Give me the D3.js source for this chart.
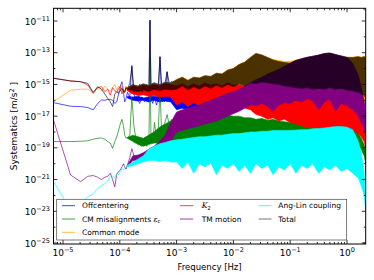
<!DOCTYPE html>
<html>
<head>
<meta charset="utf-8">
<script src="https://cdn.jsdelivr.net/npm/d3@7"></script>
<style>
body { margin: 0; background: #fff; }
svg text { font-family: "DejaVu Sans", sans-serif; fill: #000; }
</style>
</head>
<body>
<svg id="chart" width="374" height="280"></svg>
<script>
// frequencies of the low part (FFT bins, then sparser)
var freqLine = [6.8e-6, 1.36e-5, 2.04e-5, 2.72e-5, 3.4e-5, 4.08e-5, 4.76e-5, 5.44e-5, 6.12e-5, 6.8e-5,
  7.48e-5, 8.16e-5, 8.84e-5, 9.52e-5, 1.02e-4, 1.09e-4, 1.16e-4, 1.22e-4, 1.29e-4, 1.36e-4,
  1.5e-4, 1.63e-4, 1.77e-4, 1.9e-4, 2.04e-4, 2.24e-4, 2.45e-4, 2.72e-4, 2.99e-4, 3.26e-4,
  3.4e-4, 3.54e-4, 3.81e-4, 4.08e-4, 4.42e-4, 4.76e-4, 5.1e-4, 5.44e-4, 6.12e-4, 6.8e-4,
  7.48e-4, 8.16e-4, 9.18e-4, 1.0e-3];

var offLine = [7.1e-17, 4.2e-17, 4.0e-17, 3.5e-17, 2.5e-17, 6.3e-17, 1.05e-16, 1.0e-16, 1.12e-16, 1.15e-16,
  1.0e-16, 6.3e-17, 7.9e-17, 2.5e-16, 7.9e-16, 1.48e-15, 3.2e-16, 7.9e-17, 1.26e-16, 3.2e-16,
  1.6e-16, 1.6e-14, 2.5e-16, 1.0e-16, 1.26e-16, 6.3e-17, 1.6e-16, 7.9e-17, 1.26e-16, 1.0e-16,
  1.12e-11, 1.26e-16, 6.3e-17, 1.6e-16, 5.0e-17, 1.26e-16, 5.6e-14, 1.6e-16, 7.9e-17, 6.3e-15,
  1.26e-16, 2.5e-16, 1.0e-16, 2.0e-16];
var cmLine = [2.5e-19, 2.5e-19, 2.6e-19, 2.8e-19, 3.5e-19, 4.0e-19, 4.2e-19, 3.5e-19, 2.5e-19, 2.0e-19,
  9.3e-20, 2.5e-19, 5.0e-19, 1.26e-18, 3.2e-18, 6.3e-18, 2.5e-18, 6.3e-19, 4.0e-19, 4.5e-19,
  6.3e-19, 1.6e-16, 2.5e-18, 5.0e-19, 2.5e-19, 1.6e-19, 1.26e-19, 2.0e-19, 1.26e-19, 3.2e-19,
  5.0e-14, 5.0e-19, 2.5e-19, 4.0e-18, 4.0e-19, 1.6e-18, 4.5e-16, 1.26e-18, 3.2e-18, 1.26e-17,
  2.5e-18, 6.3e-18, 3.2e-18, 5.0e-18];
var commonLine = [8.1e-17, 4.3e-16, 5.0e-16, 5.0e-16, 2.8e-16, 6.3e-16, 4.0e-16, 7.9e-16, 5.0e-16, 3.5e-16,
  6.3e-16, 1.0e-15, 4.5e-16, 7.9e-16, 4.0e-16, 1.0e-15, 6.3e-16, 3.2e-16, 7.9e-16, 5.0e-16,
  6.3e-16, 1.0e-15, 3.2e-16, 7.9e-16, 4.0e-16, 1.0e-15, 5.0e-16, 2.5e-16, 7.9e-16, 5.0e-16,
  1.0e-15, 4.0e-16, 6.3e-16, 3.2e-16, 7.9e-16, 5.0e-16, 1.0e-15, 4.0e-16, 6.3e-16, 1.0e-15,
  5.0e-16, 1.26e-15, 6.3e-16, 1.0e-15];
var k2Line = [2.45e-15, 1.66e-15, 1.48e-15, 9.3e-16, 2.75e-16, 6.3e-16, 7.2e-16, 3.5e-16, 5.0e-16, 2.1e-16,
  6.3e-16, 4.0e-16, 3.2e-16, 5.6e-16, 7.2e-16, 2.5e-16, 5.0e-16, 3.2e-16, 6.3e-16, 4.0e-16,
  5.0e-16, 2.5e-16, 7.9e-16, 3.2e-16, 6.3e-16, 2.0e-16, 5.0e-16, 3.2e-16, 1.0e-15, 2.5e-16,
  6.3e-16, 4.0e-16, 2.0e-16, 7.9e-16, 3.2e-16, 5.0e-16, 2.5e-16, 6.3e-16, 4.0e-16, 2.5e-16,
  7.9e-16, 3.2e-16, 5.0e-16, 4.0e-16];
var tmLine = [5.75e-18, 1.95e-21, 7.4e-22, 1.6e-21, 1.8e-21, 1.4e-21, 1.0e-21, 1.4e-21, 1.6e-21, 2.5e-21,
  1.0e-21, 3.5e-22, 2.2e-21, 3.2e-21, 4.0e-21, 6.3e-21, 1.0e-20, 6.3e-21, 4.5e-21, 7.9e-21,
  2.5e-20, 8.9e-20, 3.2e-20, 1.8e-20, 2.5e-20, 3.2e-20, 3.5e-20, 5.0e-20, 3.2e-20, 6.3e-20,
  1.0e-19, 4.0e-20, 7.9e-20, 5.0e-20, 1.26e-19, 6.3e-20, 1.6e-19, 7.9e-20, 2.0e-19, 1.0e-19,
  5.0e-19, 2.5e-19, 2.5e-18, 1.6e-18];
var angLine = [7.4e-22, 1.2e-23, 3.2e-23, 7.9e-23, 1.26e-22, 2.8e-22, 4.0e-22, 5.6e-22, 7.9e-22, 1.8e-21,
  1.6e-21, 1.26e-21, 2.5e-21, 2.0e-21, 3.2e-21, 5.0e-21, 4.0e-21, 6.3e-21, 5.6e-21, 7.9e-21,
  6.3e-21, 1.0e-20, 7.9e-21, 1.4e-20, 1.26e-20, 2.0e-20, 1.6e-20, 2.5e-20, 3.2e-20, 4.0e-20,
  1.0e-19, 2.5e-20, 7.9e-20, 2.0e-20, 1.0e-19, 3.2e-20, 1.26e-19, 2.5e-20, 1.6e-19, 2.0e-20,
  2.0e-19, 3.2e-20, 2.5e-19, 4.0e-20];
var totalLine = [2.45e-15, 1.66e-15, 1.48e-15, 1.17e-15, 3.2e-16, 7.2e-16, 5.0e-16, 2.5e-16, 1.35e-16, 7.9e-17,
  4.0e-17, 2.5e-16, 3.5e-16, 2.8e-16, 4.0e-16, 5.75e-16, 3.5e-16, 3.2e-16, 6.3e-16, 5.0e-16,
  1.17e-15, 1.32e-14, 3.2e-16, 7.9e-16, 4.0e-16, 1.0e-15, 3.2e-16, 7.9e-16, 5.0e-16, 1.0e-15,
  1.12e-11, 1.0e-15, 5.0e-16, 1.26e-15, 6.3e-16, 1.0e-15, 5.6e-14, 1.0e-15, 7.9e-16, 6.3e-15,
  1.0e-15, 1.6e-15, 1.0e-15, 1.6e-15];

// dense part: upper and lower edge of each noisy band
var freqBand = [1.36e-4, 1.7e-4, 2.1e-4, 2.6e-4, 3.2e-4, 4.0e-4, 5.0e-4, 6.3e-4, 7.9e-4,
  1.0e-3, 1.26e-3, 1.58e-3, 2.0e-3, 2.5e-3, 3.16e-3, 4.0e-3, 5.0e-3, 6.3e-3, 7.9e-3,
  1.0e-2, 1.26e-2, 1.58e-2, 2.0e-2, 2.5e-2, 3.16e-2, 4.0e-2, 5.0e-2, 6.3e-2, 7.9e-2,
  0.1, 0.126, 0.158, 0.2, 0.25, 0.316, 0.4, 0.5, 0.63, 0.79,
  1.0, 1.26, 1.58, 1.78, 2.0, 2.14];

var offHi = [1.8e-16, 1.6e-16, 1.8e-16, 1.41e-16, 1.6e-16, 1.8e-16, 1.6e-16, 2.0e-16, 2.0e-16,
  4.0e-16, 6.3e-16, 3.2e-16, 5.0e-16, 3.5e-16, 5.6e-16, 4.0e-16, 6.3e-16, 4.5e-16, 7.1e-16,
  5.0e-16, 7.9e-16, 5.6e-16, 6.3e-16, 3.2e-16, 3.2e-16, 3.2e-16, 3.2e-16, 3.2e-16, 3.2e-16,
  3.2e-16, 3.2e-16, 3.2e-16, 3.2e-16, 3.2e-16, 3.2e-16, 3.2e-16, 3.2e-16, 3.2e-16, 3.2e-16,
  3.2e-16, 2.5e-16, 1.6e-16, 1.0e-16, 5.0e-17, 1.6e-17];
var offLo = [1.41e-16, 1.0e-16, 8.9e-17, 1.0e-16, 7.9e-17, 1.0e-16, 7.9e-17, 8.9e-17, 7.9e-17,
  2.5e-17, 3.2e-17, 2.5e-17, 3.5e-17, 3.2e-17, 4.0e-17, 3.5e-17, 4.0e-17, 5.0e-17, 5.0e-17,
  5.0e-17, 6.3e-17, 4.0e-17, 3.2e-17, 3.2e-17, 3.2e-17, 3.2e-17, 3.2e-17, 3.2e-17, 3.2e-17,
  3.2e-17, 3.2e-17, 3.2e-17, 3.2e-17, 3.2e-17, 3.2e-17, 3.2e-17, 3.2e-17, 3.2e-17, 3.2e-17,
  3.2e-17, 2.5e-17, 1.6e-17, 1.0e-17, 6.3e-18, 3.2e-18];
var cmHi = [4.5e-19, 6.3e-19, 5.0e-19, 4.0e-19, 6.3e-19, 1.0e-18, 2.0e-18, 3.2e-18, 5.0e-18,
  6.3e-18, 8.9e-18, 7.1e-18, 1.0e-17, 7.9e-18, 1.12e-17, 8.9e-18, 1.12e-17, 1.0e-17, 1.12e-17,
  1.0e-17, 1.0e-17, 7.9e-18, 7.9e-18, 6.3e-18, 7.1e-18, 5.6e-18, 6.3e-18, 5.0e-18, 4.5e-18,
  4.0e-18, 3.5e-18, 3.2e-18, 3.2e-18, 2.8e-18, 2.5e-18, 2.5e-18, 2.5e-18, 2.2e-18, 2.2e-18,
  2.0e-18, 1.6e-18, 7.9e-19, 4.0e-19, 1.6e-19, 5.0e-20];
var cmLo = [4.0e-19, 2.5e-19, 1.6e-19, 1.26e-19, 1.6e-19, 2.0e-19, 2.0e-19, 2.5e-19, 2.5e-19,
  2.5e-19, 2.5e-19, 2.5e-19, 2.5e-19, 2.5e-19, 2.5e-19, 2.5e-19, 2.5e-19, 2.5e-19, 2.5e-19,
  2.5e-19, 2.5e-19, 2.5e-19, 2.5e-19, 2.5e-19, 2.5e-19, 2.5e-19, 2.5e-19, 2.5e-19, 2.5e-19,
  2.5e-19, 2.5e-19, 2.5e-19, 2.5e-19, 2.5e-19, 2.5e-19, 2.5e-19, 2.5e-19, 2.5e-19, 2.5e-19,
  2.5e-19, 2.5e-19, 1.6e-19, 7.9e-20, 3.2e-20, 1.0e-20];
var commonHi = [6.3e-16, 8.9e-16, 7.9e-16, 1.0e-15, 7.9e-16, 1.12e-15, 8.9e-16, 1.26e-15, 1.12e-15,
  2.1e-15, 2.95e-15, 1.86e-15, 2.95e-15, 2.6e-15, 3.7e-15, 3.3e-15, 5.2e-15, 4.7e-15, 8.3e-15,
  1.05e-14, 1.86e-14, 2.6e-14, 5.2e-14, 9.3e-14, 7.4e-14, 5.2e-14, 3.7e-14, 3.2e-14, 2.8e-14,
  2.8e-14, 3.5e-14, 3.2e-14, 3.2e-14, 2.8e-14, 3.2e-14, 2.8e-14, 3.2e-14, 3.5e-14, 4.0e-14,
  5.0e-14, 5.2e-14, 5.9e-14, 5.2e-14, 5.9e-14, 5.2e-14];
var commonLo = [5.0e-16, 3.2e-16, 2.8e-16, 3.5e-16, 3.2e-16, 4.0e-16, 3.2e-16, 4.0e-16, 3.5e-16,
  3.2e-16, 5.0e-16, 2.5e-16, 4.5e-16, 3.2e-16, 5.0e-16, 2.8e-16, 4.5e-16, 3.2e-16, 5.0e-16,
  3.5e-16, 5.0e-16, 4.0e-16, 5.0e-16, 4.0e-16, 4.5e-16, 3.5e-16, 4.0e-16, 3.2e-16, 3.5e-16,
  2.8e-16, 3.2e-16, 2.5e-16, 3.2e-16, 2.5e-16, 2.8e-16, 2.5e-16, 3.2e-16, 2.5e-16, 2.8e-16,
  2.5e-16, 2.2e-16, 2.0e-16, 1.6e-16, 1.0e-16, 6.3e-17];
var k2Hi = [5.0e-16, 7.9e-16, 6.3e-16, 8.9e-16, 7.1e-16, 1.0e-15, 7.9e-16, 1.12e-15, 1.0e-15,
  7.9e-16, 1.12e-15, 7.1e-16, 1.12e-15, 7.9e-16, 1.26e-15, 8.9e-16, 1.12e-15, 7.9e-16, 1.26e-15,
  8.9e-16, 1.0e-15, 7.1e-16, 5.0e-16, 3.5e-16, 3.2e-16, 2.5e-16, 2.5e-16, 2.5e-16, 2.5e-16,
  2.5e-16, 2.5e-16, 2.5e-16, 2.5e-16, 2.5e-16, 2.5e-16, 2.5e-16, 2.5e-16, 2.5e-16, 2.5e-16,
  2.5e-16, 2.5e-16, 1.26e-16, 6.3e-17, 2.5e-17, 6.3e-18];
var k2Lo = [4.0e-16, 2.5e-16, 2.0e-16, 2.2e-16, 1.8e-16, 2.0e-16, 1.6e-16, 1.8e-16, 1.6e-16,
  5.0e-17, 7.9e-17, 4.0e-17, 7.1e-17, 4.5e-17, 7.9e-17, 5.0e-17, 8.9e-17, 5.6e-17, 1.0e-16,
  5.0e-17, 7.9e-17, 3.2e-17, 2.5e-17, 1.26e-17, 1.0e-17, 6.3e-18, 7.9e-18, 5.0e-18, 6.3e-18,
  4.0e-18, 3.2e-18, 2.5e-18, 2.0e-18, 1.8e-18, 1.6e-18, 1.6e-18, 1.6e-18, 1.6e-18, 1.6e-18,
  1.41e-18, 1.26e-18, 7.9e-19, 5.0e-19, 2.5e-19, 1.0e-19];
var tmHi = [7.9e-21, 3.2e-20, 3.5e-20, 5.0e-20, 7.9e-20, 1.26e-19, 2.5e-19, 6.3e-19, 4.0e-18,
  1.8e-17, 2.5e-17, 3.2e-17, 4.0e-17, 5.0e-17, 7.1e-17, 1.0e-16, 1.41e-16, 2.0e-16, 2.8e-16,
  3.5e-16, 5.0e-16, 7.9e-16, 1.26e-15, 2.0e-15, 2.8e-15, 4.5e-15, 6.3e-15, 8.9e-15, 1.41e-14,
  2.2e-14, 3.3e-14, 4.2e-14, 5.2e-14, 6.0e-14, 7.1e-14, 8.9e-14, 9.5e-14, 7.6e-14, 6.3e-14,
  5.0e-14, 2.2e-14, 4.0e-15, 6.3e-16, 1.0e-16, 3.2e-17];
var tmLo = [6.3e-21, 1.6e-20, 1.6e-20, 2.0e-20, 2.5e-20, 3.2e-20, 5.0e-20, 1.0e-19, 2.5e-19,
  1.0e-18, 1.26e-18, 1.6e-18, 2.0e-18, 2.5e-18, 3.2e-18, 4.0e-18, 5.0e-18, 7.1e-18, 1.0e-17,
  1.41e-17, 2.0e-17, 3.2e-17, 5.0e-17, 4.5e-17, 6.3e-17, 4.0e-17, 2.0e-17, 5.0e-17, 7.1e-17,
  6.3e-17, 1.0e-16, 7.9e-17, 1.26e-16, 8.9e-17, 2.5e-17, 7.9e-17, 1.12e-16, 2.0e-17, 6.3e-17,
  4.5e-17, 2.5e-17, 1.0e-17, 4.0e-18, 1.6e-18, 6.3e-19];
var angHi = [7.9e-21, 1.26e-20, 2.0e-20, 3.2e-20, 7.9e-20, 1.26e-19, 1.8e-19, 2.2e-19, 2.8e-19,
  3.2e-19, 3.5e-19, 4.0e-19, 4.5e-19, 5.0e-19, 5.0e-19, 5.6e-19, 6.3e-19, 6.3e-19, 7.1e-19,
  7.9e-19, 7.9e-19, 8.9e-19, 1.0e-18, 1.0e-18, 1.12e-18, 1.12e-18, 1.26e-18, 1.26e-18, 1.26e-18,
  1.26e-18, 1.32e-18, 1.41e-18, 1.41e-18, 1.6e-18, 1.66e-18, 1.8e-18, 2.0e-18, 2.2e-18, 2.25e-18,
  2.0e-18, 1.41e-18, 2.5e-19, 5.0e-20, 3.2e-21, 5.0e-23];
var angLo = [6.3e-21, 7.9e-21, 1.0e-20, 1.26e-20, 1.6e-20, 1.6e-20, 1.4e-20, 1.6e-20, 1.26e-20,
  1.26e-20, 5.0e-21, 1.26e-20, 2.5e-21, 1.0e-20, 6.3e-21, 1.12e-20, 2.0e-21, 7.9e-21, 5.0e-21,
  1.0e-20, 3.2e-21, 7.9e-21, 2.5e-21, 1.0e-20, 5.0e-21, 7.9e-21, 2.0e-21, 6.3e-21, 4.0e-21,
  1.0e-20, 2.5e-21, 7.9e-21, 5.0e-21, 1.0e-20, 2.5e-21, 6.3e-21, 4.0e-21, 7.9e-21, 3.2e-21,
  5.0e-21, 2.5e-21, 1.26e-21, 4.0e-22, 1.0e-22, 1.0e-23];
var totalHi = [6.3e-16, 1.0e-15, 7.9e-16, 1.12e-15, 8.9e-16, 1.26e-15, 1.0e-15, 1.41e-15, 1.26e-15,
  2.0e-15, 2.8e-15, 1.8e-15, 2.8e-15, 2.5e-15, 3.5e-15, 3.2e-15, 5.0e-15, 4.5e-15, 7.9e-15,
  1.0e-14, 1.8e-14, 2.5e-14, 5.0e-14, 8.9e-14, 7.1e-14, 5.0e-14, 3.5e-14, 2.8e-14, 2.4e-14,
  2.2e-14, 3.2e-14, 4.2e-14, 5.2e-14, 6.0e-14, 7.1e-14, 8.9e-14, 9.5e-14, 7.6e-14, 6.3e-14,
  5.2e-14, 5.0e-14, 5.6e-14, 5.0e-14, 5.6e-14, 5.0e-14];
var totalLo = [5.0e-16, 4.0e-16, 3.5e-16, 4.5e-16, 3.5e-16, 5.0e-16, 4.0e-16, 5.0e-16, 4.5e-16,
  5.0e-16, 7.9e-16, 4.5e-16, 7.1e-16, 5.0e-16, 7.9e-16, 5.6e-16, 8.9e-16, 6.3e-16, 1.0e-15,
  7.1e-16, 1.12e-15, 7.9e-16, 1.26e-15, 1.12e-15, 1.41e-15, 1.26e-15, 1.12e-15, 1.0e-15, 7.9e-16,
  7.1e-16, 6.3e-16, 5.6e-16, 6.3e-16, 5.0e-16, 5.6e-16, 5.0e-16, 6.3e-16, 5.0e-16, 5.6e-16,
  4.5e-16, 4.0e-16, 3.2e-16, 2.5e-16, 2.0e-16, 1.26e-16];

var xTicks = [1e-5, 1e-4, 1e-3, 1e-2, 1e-1, 1];
var yTicks = [1e-25, 1e-23, 1e-21, 1e-19, 1e-17, 1e-15, 1e-13, 1e-11];
var yMinorTicks = [1e-24, 1e-22, 1e-20, 1e-18, 1e-16, 1e-14, 1e-12];

var series = [
  {name: "Offcentering", color: "#0000ff", alpha: 1, line: offLine, hi: offHi, lo: offLo, col: 0, row: 0},
  {name: "CM misalignments", color: "#008000", alpha: 1, line: cmLine, hi: cmHi, lo: cmLo, col: 0, row: 1},
  {name: "Common mode", color: "#ffa500", alpha: 1, line: commonLine, hi: commonHi, lo: commonLo, col: 0, row: 2},
  {name: "K", color: "#ff0000", alpha: 1, line: k2Line, hi: k2Hi, lo: k2Lo, col: 1, row: 0},
  {name: "TM motion", color: "#800080", alpha: 1, line: tmLine, hi: tmHi, lo: tmLo, col: 1, row: 1},
  {name: "Ang-Lin coupling", color: "#00ffff", alpha: 1, line: angLine, hi: angHi, lo: angLo, col: 2, row: 0},
  {name: "Total", color: "#000000", alpha: 0.7, line: totalLine, hi: totalHi, lo: totalLo, col: 2, row: 1}
];

var plotL = 53.5, plotR = 365.7, plotT = 8.3, plotB = 244;

var x = d3.scaleLog().domain([1e-5, 1]).range([63, 347]);
var y = d3.scaleLog().domain([1e-25, 1e-11]).range([243, 21]);

var svg = d3.select("#chart");

svg.append("clipPath").attr("id", "clip")
  .append("rect")
  .attr("x", plotL).attr("y", plotT)
  .attr("width", plotR - plotL).attr("height", plotB - plotT);

var plot = svg.append("g").attr("clip-path", "url(#clip)");

var lineGen = d3.line()
  .x(function(d) { return x(d[0]); })
  .y(function(d) { return y(d[1]); });

var areaGen = d3.area()
  .x(function(d) { return x(d[0]); })
  .y0(function(d) { return y(d[1]); })
  .y1(function(d) { return y(d[2]); });

// each series: line at low frequency, filled noisy band where the spectrum gets dense
series.forEach(function(s) {
  var g = plot.append("g").attr("opacity", s.alpha);
  g.append("path")
    .datum(d3.zip(freqBand, s.lo, s.hi))
    .attr("d", areaGen)
    .attr("fill", s.color)
    .attr("stroke", s.color)
    .attr("stroke-width", 0.6)
    .attr("stroke-linejoin", "round");
  g.append("path")
    .datum(d3.zip(freqLine, s.line))
    .attr("d", lineGen)
    .attr("fill", "none")
    .attr("stroke", s.color)
    .attr("stroke-width", 0.9)
    .attr("stroke-opacity", s.alpha < 1 ? 1 : 0.75);
});

// frame
svg.append("rect")
  .attr("x", plotL).attr("y", plotT)
  .attr("width", plotR - plotL).attr("height", plotB - plotT)
  .attr("fill", "none").attr("stroke", "#000").attr("stroke-width", 1);

// ticks (inward, all four sides)
var xMinor = [];
for (var e = -6; e <= 0; e++) {
  for (var m = 2; m <= 9; m++) {
    var v = m * Math.pow(10, e);
    if (x(v) > plotL + 1 && x(v) < plotR - 1) xMinor.push(v);
  }
}

var ticks = svg.append("g").attr("stroke", "#000").attr("stroke-width", 0.8);

function xTickLines(data, len) {
  ticks.selectAll(null).data(data).enter().append("line")
    .attr("x1", function(d) { return x(d); }).attr("x2", function(d) { return x(d); })
    .attr("y1", plotB).attr("y2", plotB - len);
  ticks.selectAll(null).data(data).enter().append("line")
    .attr("x1", function(d) { return x(d); }).attr("x2", function(d) { return x(d); })
    .attr("y1", plotT).attr("y2", plotT + len);
}
function yTickLines(data, len) {
  ticks.selectAll(null).data(data).enter().append("line")
    .attr("y1", function(d) { return y(d); }).attr("y2", function(d) { return y(d); })
    .attr("x1", plotL).attr("x2", plotL + len);
  ticks.selectAll(null).data(data).enter().append("line")
    .attr("y1", function(d) { return y(d); }).attr("y2", function(d) { return y(d); })
    .attr("x1", plotR).attr("x2", plotR - len);
}
xTickLines(xTicks, 4);
xTickLines(xMinor, 2);
yTickLines(yTicks, 4);
yTickLines(yMinorTicks, 2);

function expo(v) { return String(Math.round(Math.log10(v))).replace("-", "\u2212"); }

// x tick labels
xTicks.forEach(function(v) {
  var t = svg.append("text")
    .attr("x", x(v)).attr("y", 256)
    .attr("text-anchor", "middle")
    .attr("font-size", 9);
  t.append("tspan").text("10");
  t.append("tspan").attr("dy", -4).attr("font-size", 6.5).text(expo(v));
});

// y tick labels
yTicks.forEach(function(v) {
  var t = svg.append("text")
    .attr("x", 50).attr("y", y(v) + 3.5)
    .attr("text-anchor", "end")
    .attr("font-size", 9);
  t.append("tspan").text("10");
  t.append("tspan").attr("dy", -4).attr("font-size", 6.5).text(expo(v));
});

// axis labels
svg.append("text")
  .attr("x", (plotL + plotR) / 2).attr("y", 270)
  .attr("text-anchor", "middle")
  .attr("font-size", 8.5)
  .text("Frequency [Hz]");

var yl = svg.append("text")
  .attr("transform", "translate(17," + ((plotT + plotB) / 2) + ") rotate(-90)")
  .attr("text-anchor", "middle")
  .attr("font-size", 9);
yl.append("tspan").text("Systematics [m/s");
yl.append("tspan").attr("dy", -3.5).attr("font-size", 6.5).text("2");
yl.append("tspan").attr("dy", 3.5).text(" ]");

// legend
var legend = svg.append("g");
legend.append("rect")
  .attr("x", 56.7).attr("y", 199.3)
  .attr("width", 290).attr("height", 40.7)
  .attr("fill", "#fff").attr("stroke", "#444").attr("stroke-width", 0.7);

var colLine = [62, 180, 258.5];
var colText = [82, 201.7, 278.3];
var rowY = [205.7, 219, 232.3];

series.forEach(function(s) {
  var cy = rowY[s.row];
  legend.append("line")
    .attr("x1", colLine[s.col]).attr("x2", colLine[s.col] + 13)
    .attr("y1", cy).attr("y2", cy)
    .attr("stroke", s.color).attr("stroke-width", 1)
    .attr("opacity", s.alpha < 1 ? 0.55 : 0.75);
  var t = legend.append("text")
    .attr("x", colText[s.col]).attr("y", cy + 2.7)
    .attr("font-size", 7.5);
  if (s.name === "K") {
    t.append("tspan").attr("font-style", "italic").attr("font-family", "DejaVu Serif").text("K");
    t.append("tspan").attr("dy", 1.5).attr("font-size", 5.5).text("2");
  } else if (s.name === "CM misalignments") {
    t.append("tspan").text("CM misalignments ");
    t.append("tspan").attr("font-style", "italic").attr("font-family", "DejaVu Serif").text("\u03b5");
    t.append("tspan").attr("dy", 1.5).attr("font-size", 5.5).attr("font-style", "italic").text("c");
  } else {
    t.text(s.name);
  }
});
</script>
</body>
</html>
